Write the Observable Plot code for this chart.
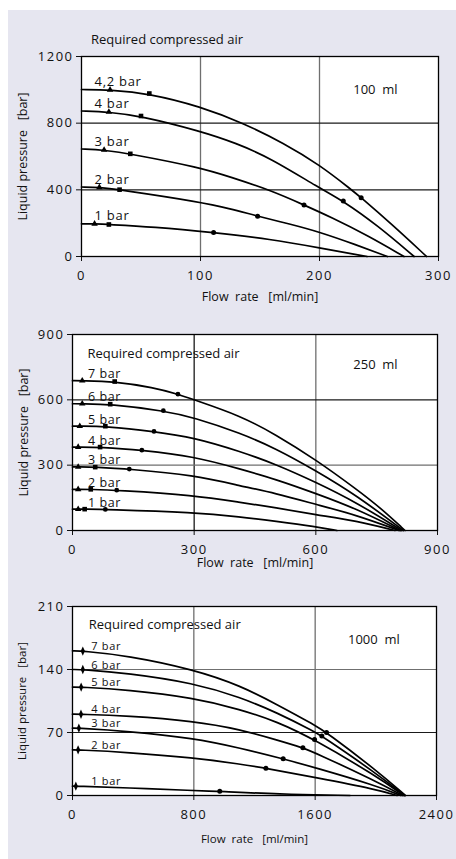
<!DOCTYPE html>
<html><head><meta charset="utf-8">
<script src="https://cdn.jsdelivr.net/npm/d3@7"></script>
<script src="https://cdn.jsdelivr.net/npm/@observablehq/plot@0.6"></script>
<style>
html,body{margin:0;padding:0;background:#fff;width:456px;height:859px;overflow:hidden;}
#bg{position:absolute;left:8px;top:10px;width:448px;height:849px;background:#e6e6f0;}
.panel{position:absolute;left:0;}
.panel svg{overflow:visible;}
[aria-label$="tick label"] text{letter-spacing:1.5px;}
</style></head><body>
<div id="bg"></div>
<div id="p1" class="panel" style="top:0px"></div>
<div id="p2" class="panel" style="top:310px"></div>
<div id="p3" class="panel" style="top:580px"></div>
<script>
// ---------- Panel 1 : 100 ml ----------
const p1Series = ["4,2 bar", "4 bar", "3 bar", "2 bar", "1 bar"];
const p1Flow = [
  [0, 24, 57, 100, 136, 170, 200, 227, 235, 260, 290],
  [0, 23, 50, 100, 130, 159, 200, 220, 249, 279.5],
  [0, 19, 41, 100, 125, 159, 187, 210, 240, 271],
  [0, 15, 32, 100, 125, 148, 175, 200, 230, 257],
  [0, 11, 23, 60, 111, 159, 200, 240]
];
const p1Pressure = [
  [1002, 1000, 978, 900, 800, 680, 550, 400, 353, 198, 0],
  [873, 867, 843, 752, 680, 590, 410, 333, 185, 0],
  [645, 639, 616, 533, 477, 397, 309, 235, 128, 0],
  [417, 415, 401, 327, 287, 242, 195, 147, 72, 0],
  [196, 196, 192, 178, 144, 104, 52, 0]
];
const p1TriFlow = [24, 23, 19, 15, 11];
const p1TriPressure = [1000, 867, 639, 415, 196];
const p1SqFlow = [57, 50, 41, 32, 23];
const p1SqPressure = [978, 843, 616, 401, 192];
const p1CircFlow = [235, 220, 187, 148, 111];
const p1CircPressure = [353, 333, 309, 242, 144];
const p1XTicks = [0, 100, 200, 300];
const p1YTicks = [0, 400, 800, 1200];

// ---------- Panel 2 : 250 ml ----------
const p2Series = ["7 bar", "6 bar", "5 bar", "4 bar", "3 bar", "2 bar", "1 bar"];
const p2Flow = [
  [0, 24, 104, 200, 260, 300, 414, 500, 600, 700, 760, 820],
  [0, 24, 93, 224, 300, 414, 500, 600, 700, 816],
  [0, 18, 81, 201, 300, 414, 500, 600, 700, 812],
  [0, 14, 68, 171, 300, 414, 500, 600, 700, 808],
  [0, 14, 56, 140, 300, 414, 500, 600, 700, 805],
  [0, 14, 45, 109, 300, 414, 500, 600, 700, 795],
  [0, 14, 30, 81, 300, 414, 500, 600, 652]
];
const p2Pressure = [
  [688, 688, 684, 657, 626, 600, 527, 442, 325, 190, 103, 0],
  [582, 582, 580, 550, 519, 447, 378, 275, 162, 0],
  [479, 479, 479, 455, 427, 363, 305, 222, 129, 0],
  [383, 383, 383, 369, 340, 282, 236, 170, 100, 0],
  [292, 292, 291, 282, 254, 205, 171, 120, 71, 0],
  [189, 189, 189, 185, 162, 129, 105, 72, 45, 0],
  [98, 98, 98, 97, 83, 63, 43, 18, 0]
];
const p2TriFlow = [24, 24, 18, 14, 14, 14, 14];
const p2TriPressure = [688, 582, 479, 383, 292, 189, 98];
const p2SqFlow = [104, 93, 81, 68, 56, 45, 30];
const p2SqPressure = [684, 580, 479, 383, 291, 189, 98];
const p2CircFlow = [260, 224, 201, 171, 140, 109, 81];
const p2CircPressure = [626, 550, 455, 369, 282, 185, 97];
const p2XTicks = [0, 300, 600, 900];
const p2YTicks = [0, 300, 600, 900];

// ---------- Panel 3 : 1000 ml ----------
const p3Series = ["7 bar", "6 bar", "5 bar", "4 bar", "3 bar", "2 bar", "1 bar"];
const p3Flow = [
  [0, 68, 360, 800, 1108, 1350, 1600, 1675, 2000, 2195],
  [0, 68, 360, 800, 1108, 1350, 1600, 1644, 2000, 2190],
  [0, 57, 360, 800, 1108, 1350, 1596, 2000, 2185],
  [0, 56, 360, 800, 1108, 1350, 1519, 1600, 2000, 2175],
  [0, 42, 360, 800, 1108, 1389, 1600, 2000, 2165],
  [0, 37, 360, 800, 1108, 1275, 1600, 2000, 2140],
  [0, 22, 360, 800, 971, 1350, 1830]
];
const p3Pressure = [
  [160.7, 160.5, 155.5, 140, 122, 101, 78, 70, 28.5, 0],
  [140, 140, 136, 125, 109, 92, 70.5, 66, 25, 0],
  [120.5, 120.5, 117.4, 108.5, 95.6, 82, 62.2, 21.8, 0],
  [90.4, 90.3, 88.5, 82.6, 73.3, 61.5, 53, 47.5, 16, 0],
  [74.8, 74.8, 71.5, 63.7, 52.6, 40.7, 31, 11, 0],
  [50.7, 50.7, 48, 41.9, 34.8, 30.4, 20, 7, 0],
  [10.4, 10.4, 8.5, 5.5, 4.6, 1.5, 0]
];
const p3DiaFlow = [68, 68, 57, 56, 42, 37, 22];
const p3DiaPressure = [160.5, 140, 120.5, 90.3, 74.8, 50.7, 10.4];
const p3CircFlow = [1675, 1644, 1596, 1519, 1389, 1275, 971];
const p3CircPressure = [70, 66, 62.2, 53, 40.7, 30.4, 4.6];
const p3XTicks = [0, 800, 1600, 2400];
const p3YTicks = [0, 70, 140, 210];

const titleText = "Required compressed air";
const xLabelText = "Flow\u00a0\u00a0rate\u00a0\u00a0\u00a0[ml/min]";
const yLabelText = "Liquid pressure\u00a0\u00a0\u00a0[bar]";

// ---------- helpers ----------
function curveRows(names, flows, pressures) {
  return names.flatMap((n, i) => flows[i].map((f, j) => ({series: n, flow: f, pressure: pressures[i][j]})));
}
function pointRows(names, flows, pressures) {
  return names.map((n, i) => ({series: n, flow: flows[i], pressure: pressures[i]}));
}
const tallDiamond = {
  draw(ctx, size) {
    const r = Math.sqrt(size) / 2;
    ctx.moveTo(0, -r * 2.1);
    ctx.lineTo(r * 0.95, 0);
    ctx.lineTo(0, r * 2.1);
    ctx.lineTo(-r * 0.95, 0);
    ctx.closePath();
  }
};
const GREY = "#6f6f6f", DARK = "#1a1a1a";

function makePanel(o) {
  const curves = curveRows(o.names, o.flows, o.pressures);
  const labels = o.names.map((n, i) => ({series: n, flow: o.labelFlow, pressure: o.pressures[i][0]}));
  const vGrid = o.xTicks.slice(1, -1), hGrid = o.yTicks.slice(1, -1);
  const marks = [
    Plot.frame({fill: "white", stroke: null}),
    Plot.ruleX(vGrid, {stroke: (d, i) => o.vCol[vGrid.indexOf(d)], strokeWidth: 1.3}),
    Plot.ruleY(hGrid, {stroke: (d, i) => o.hCol[hGrid.indexOf(d)], strokeWidth: 1.1}),
    Plot.line(curves, {x: "flow", y: "pressure", z: "series", curve: "basis", stroke: "black", strokeWidth: 1.7}),
    ...o.markers.map(m => Plot.dot(pointRows(o.names, m.flow, m.pressure), {x: "flow", y: "pressure", symbol: m.symbol, r: m.r, fill: "black", stroke: "none"})),
    Plot.text(labels, {x: "flow", y: "pressure", text: "series", textAnchor: "start", lineAnchor: "bottom", dy: o.labelDy, fontSize: o.labelSize, fill: "#111", style: {letterSpacing: o.labelSpacing}}),
    Plot.text([o.volText], {x: o.volPos[0], y: o.volPos[1], textAnchor: "middle", fontSize: 13, fill: "#111"}),
    Plot.text([titleText], {x: o.titlePos[0], y: o.titlePos[1], textAnchor: "start", fontSize: 13, fill: "#111"}),
    Plot.text([xLabelText], {frameAnchor: "bottom", dy: o.xLabelDy, textAnchor: "middle", fontSize: o.xLabelSize, fill: "#111"}),
    Plot.text([yLabelText], {frameAnchor: "left", rotate: -90, dx: o.yLabelDx, textAnchor: "middle", fontSize: o.yLabelSize, fill: "#111"}),
    Plot.frame({stroke: "black", strokeWidth: 1.3})
  ];
  const chart = Plot.plot({
    width: 456,
    height: o.height,
    marginLeft: o.m[3], marginRight: o.m[1], marginTop: o.m[0], marginBottom: o.m[2],
    style: {fontFamily: "'Open Sans', sans-serif", fontSize: "13px", color: "#111", background: "transparent", overflow: "visible"},
    x: {domain: [o.xTicks[0], o.xTicks[o.xTicks.length - 1]], ticks: o.xTicks, tickSize: 5, tickPadding: 9, tickFormat: d => String(d), label: null},
    y: {domain: [o.yTicks[0], o.yTicks[o.yTicks.length - 1]], ticks: o.yTicks, tickSize: 5, tickPadding: 3, tickFormat: d => String(d), label: null},
    marks
  });
  chart.querySelectorAll('g[aria-label="text"] text').forEach(t => {
    if (/bar$/.test(t.textContent) && t.textContent.length < 8) t.style.letterSpacing = o.labelSpacing;
  });
  document.getElementById(o.el).appendChild(chart);
}

makePanel({
  el: "p1", height: 310, m: [56, 18, 54, 81],
  xTicks: p1XTicks, yTicks: p1YTicks, vCol: [GREY, GREY], hCol: [DARK, DARK],
  names: p1Series, flows: p1Flow, pressures: p1Pressure,
  markers: [
    {flow: p1TriFlow, pressure: p1TriPressure, symbol: "triangle", r: 2.4},
    {flow: p1SqFlow, pressure: p1SqPressure, symbol: "square", r: 2.6},
    {flow: p1CircFlow, pressure: p1CircPressure, symbol: "circle", r: 2.5}
  ],
  labelFlow: 11, labelDy: -3.5, labelSize: 13, labelSpacing: "0.7px",
  volText: "100  ml", volPos: [247, 998],
  titlePos: [8, 1298],
  xLabelDy: 44, xLabelSize: 12.5, yLabelDx: -59, yLabelSize: 12.5
});

makePanel({
  el: "p2", height: 270, m: [24, 19, 50, 72],
  xTicks: p2XTicks, yTicks: p2YTicks, vCol: [DARK, GREY], hCol: [GREY, DARK],
  names: p2Series, flows: p2Flow, pressures: p2Pressure,
  markers: [
    {flow: p2TriFlow, pressure: p2TriPressure, symbol: "triangle", r: 2.4},
    {flow: p2SqFlow, pressure: p2SqPressure, symbol: "square", r: 2.6},
    {flow: p2CircFlow, pressure: p2CircPressure, symbol: "circle", r: 2.4}
  ],
  labelFlow: 38, labelDy: -2.5, labelSize: 12.5, labelSpacing: "0.6px",
  volText: "250  ml", volPos: [747, 761],
  titlePos: [37, 813],
  xLabelDy: 36, xLabelSize: 12.5, yLabelDx: -49, yLabelSize: 12.5
});

makePanel({
  el: "p3", height: 279, m: [26, 20, 64, 72],
  xTicks: p3XTicks, yTicks: p3YTicks, vCol: [GREY, GREY], hCol: [DARK, GREY],
  names: p3Series, flows: p3Flow, pressures: p3Pressure,
  markers: [
    {flow: p3DiaFlow, pressure: p3DiaPressure, symbol: tallDiamond, r: 2.5},
    {flow: p3CircFlow, pressure: p3CircPressure, symbol: "circle", r: 2.5}
  ],
  labelFlow: 123, labelDy: -1, labelSize: 11, labelSpacing: "0.7px",
  volText: "1000  ml", volPos: [1987, 173],
  titlePos: [107, 189.7],
  xLabelDy: 47, xLabelSize: 11.5, yLabelDx: -50, yLabelSize: 11.5
});
</script>
</body></html>
